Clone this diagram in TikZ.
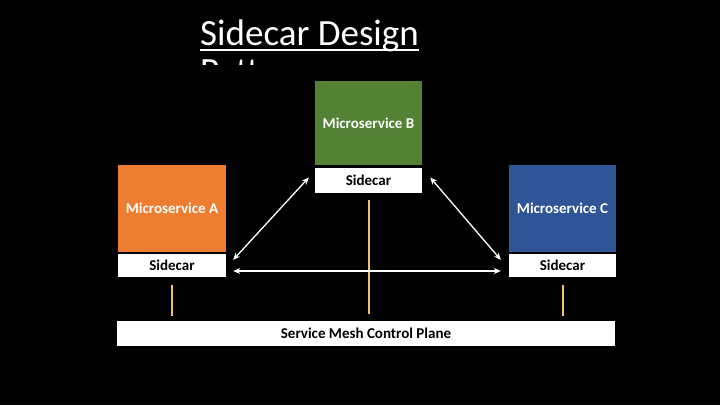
\documentclass[tikz,border=0pt]{standalone}
\usepackage{fontspec}
\setmainfont{Carlito}
\usetikzlibrary{calc,arrows.meta}
\definecolor{msA}{HTML}{ED7D31}
\definecolor{msB}{HTML}{548235}
\definecolor{msC}{HTML}{2F5597}
\definecolor{gold}{HTML}{F2C46D}
\tikzset{
  svc/.style={fill=#1, text=white, font=\fontsize{15}{18}\selectfont\bfseries, inner sep=0pt},
  sidebox/.style={fill=white, text=black, font=\fontsize{15}{18}\selectfont\bfseries, inner sep=0pt},
  link/.style={draw=white, line width=1.3pt, {Stealth[length=7pt,width=6pt]}-{Stealth[length=7pt,width=6pt]}},
  ctl/.style={draw=gold, line width=2pt}
}
\begin{document}
\begin{tikzpicture}[x=1pt,y=-1pt]
\fill[black] (0,0) rectangle (720,405);
\useasboundingbox (0,0) rectangle (720,405);
% title
\begin{scope}
\clip (190,0) rectangle (440,64);
\node[anchor=base west, inner sep=0pt, text=white, font=\fontsize{37}{44}\selectfont] (t1) at (200,45) {Sidecar Design};
\node[anchor=base west, inner sep=0pt, text=white, font=\fontsize{37}{44}\selectfont] (t2) at (200,83) {Pattern};
\draw[white, line width=2pt] ($(t1.base west)+(0,5)$) -- ($(t1.base east)+(0,5)$);
\end{scope}
% microservices
\node[svc=msA, minimum width=108pt, minimum height=87pt] (A) at (172,208.5) {Microservice A};
\node[sidebox, minimum width=108pt, minimum height=23pt] (sA) at (172,265.5) {Sidecar};
\node[svc=msB, minimum width=107pt, minimum height=84pt] (B) at (368.5,123) {Microservice B};
\node[sidebox, minimum width=107pt, minimum height=25pt] (sB) at (368.5,180.5) {Sidecar};
\node[svc=msC, minimum width=107pt, minimum height=87pt] (C) at (562.5,208.5) {Microservice C};
\node[sidebox, minimum width=107pt, minimum height=23pt] (sC) at (562.5,265.5) {Sidecar};
\node[sidebox, minimum width=498pt, minimum height=25pt] (P) at (366,333.5) {Service Mesh Control Plane};
% control lines
\draw[ctl, shorten <=8pt, shorten >=5pt] (sA.south) -- (sA.south |- P.north);
\draw[ctl, shorten <=7pt, shorten >=7pt] (sB.south) -- (sB.south |- P.north);
\draw[ctl, shorten <=8pt, shorten >=5pt] (sC.south) -- (sC.south |- P.north);
% links
\draw[link] ($(sA.north east)+(7,6)$) -- ($(sB.west)+(-6,-3)$);
\draw[link] ($(sB.east)+(8,-3)$) -- ($(sC.north west)+(-8,6)$);
\draw[link] ($(sA.east)+(7,5.5)$) -- ($(sC.west)+(-8,5.5)$);
\end{tikzpicture}
\end{document}
